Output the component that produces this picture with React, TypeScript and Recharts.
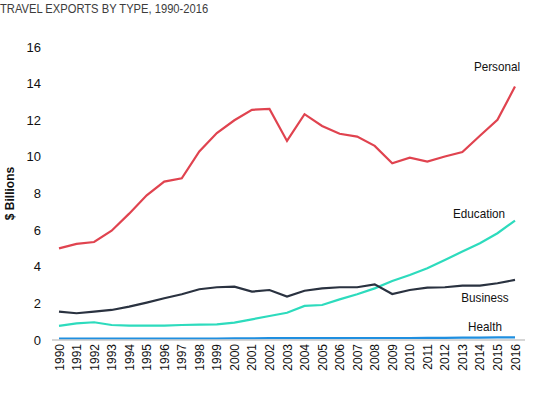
import { LineChart, Line, XAxis, YAxis, Label } from "recharts";

const years = [
  "1990", "1991", "1992", "1993", "1994", "1995", "1996", "1997", "1998",
  "1999", "2000", "2001", "2002", "2003", "2004", "2005", "2006", "2007",
  "2008", "2009", "2010", "2011", "2012", "2013", "2014", "2015", "2016",
];
const personal = [
  5.0, 5.25, 5.35, 5.97, 6.9, 7.9, 8.65, 8.83, 10.3, 11.3, 12.0, 12.57, 12.62,
  10.87, 12.33, 11.69, 11.26, 11.11, 10.6, 9.65, 9.96, 9.74, 10.02, 10.26,
  11.15, 12.02, 13.84,
];
const business = [
  1.55, 1.46, 1.55, 1.64, 1.82, 2.04, 2.28, 2.5, 2.77, 2.88, 2.91, 2.64, 2.73,
  2.37, 2.69, 2.82, 2.88, 2.88, 3.04, 2.51, 2.73, 2.86, 2.88, 2.97, 2.97, 3.1,
  3.28,
];
const education = [
  0.77, 0.91, 0.97, 0.82, 0.78, 0.78, 0.78, 0.82, 0.84, 0.85, 0.95, 1.13, 1.31,
  1.49, 1.86, 1.91, 2.22, 2.5, 2.82, 3.22, 3.55, 3.92, 4.37, 4.83, 5.28, 5.83,
  6.52,
];
const health = [
  0.08, 0.08, 0.08, 0.08, 0.08, 0.08, 0.08, 0.08, 0.08, 0.08, 0.09, 0.09, 0.1,
  0.1, 0.1, 0.1, 0.1, 0.11, 0.11, 0.11, 0.11, 0.12, 0.12, 0.13, 0.13, 0.14,
  0.14,
];
const yTicks = [0, 2, 4, 6, 8, 10, 12, 14, 16];

const data = years.map((year, i) => ({
  year,
  personal: personal[i],
  business: business[i],
  education: education[i],
  health: health[i],
}));

const FONT = "'Liberation Sans', Arial, sans-serif";

// draws the series name next to the last point only
function endLabel(text: string, dx: number, dy: number) {
  return (props: any) => {
    const { x, y, index } = props;
    if (index !== years.length - 1) return null;
    return (
      <text
        x={x + dx}
        y={y + dy}
        textAnchor="middle"
        dominantBaseline="central"
        fontFamily={FONT}
        fontSize={13}
        fill="#111"
        transform={`translate(${(x + dx) * 0.1} 0) scale(0.9 1)`}
      >
        {text}
      </text>
    );
  };
}

export default function App() {
  return (
    <div style={{ position: "absolute", left: 0, top: 0, width: 550, height: 393, background: "#fff" }}>
      <div
        style={{
          position: "absolute",
          left: 0,
          top: 1,
          fontFamily: FONT,
          fontSize: 13,
          color: "#3c3c3c",
          whiteSpace: "nowrap",
          transform: "scaleX(0.86)",
          transformOrigin: "0 0",
        }}
      >
        TRAVEL EXPORTS BY TYPE, 1990-2016
      </div>
      <LineChart
        width={550}
        height={393}
        data={data}
        margin={{ top: 47, right: 25, left: 2, bottom: 13 }}
      >
        <XAxis
          dataKey="year"
          interval={0}
          height={40}
          padding={{ left: 7, right: 10 }}
          axisLine={{ stroke: "#c8c8c8", strokeWidth: 1.5 }}
          tickLine={false}
          angle={-90}
          textAnchor="end"
          dy={-4}
          dx={-4}
          tick={{ fill: "#111", fontSize: 12, fontFamily: FONT }}
        />
        <YAxis
          domain={[0, 16]}
          ticks={yTicks}
          width={50}
          axisLine={false}
          tickLine={false}
          tick={{ fill: "#111", fontSize: 13, fontFamily: FONT, dx: -3 }}
        >
          <Label
            value="$ Billions"
            angle={-90}
            position="insideLeft"
            offset={8}
            style={{ fontFamily: FONT, fontSize: 12, fontWeight: "bold", fill: "#111", textAnchor: "middle" }}
          />
        </YAxis>
        <Line
          dataKey="personal"
          stroke="#e0434f"
          strokeWidth={2.2}
          dot={false}
          isAnimationActive={false}
          label={endLabel("Personal", -18, -20)}
        />
        <Line
          dataKey="education"
          stroke="#2ddbbd"
          strokeWidth={2.2}
          dot={false}
          isAnimationActive={false}
          label={endLabel("Education", -36, -7)}
        />
        <Line
          dataKey="business"
          stroke="#2a3240"
          strokeWidth={2.2}
          dot={false}
          isAnimationActive={false}
          label={endLabel("Business", -30, 18)}
        />
        <Line
          dataKey="health"
          stroke="#1f8fe0"
          strokeWidth={2.2}
          dot={false}
          isAnimationActive={false}
          label={endLabel("Health", -30, -11)}
        />
      </LineChart>
    </div>
  );
}
